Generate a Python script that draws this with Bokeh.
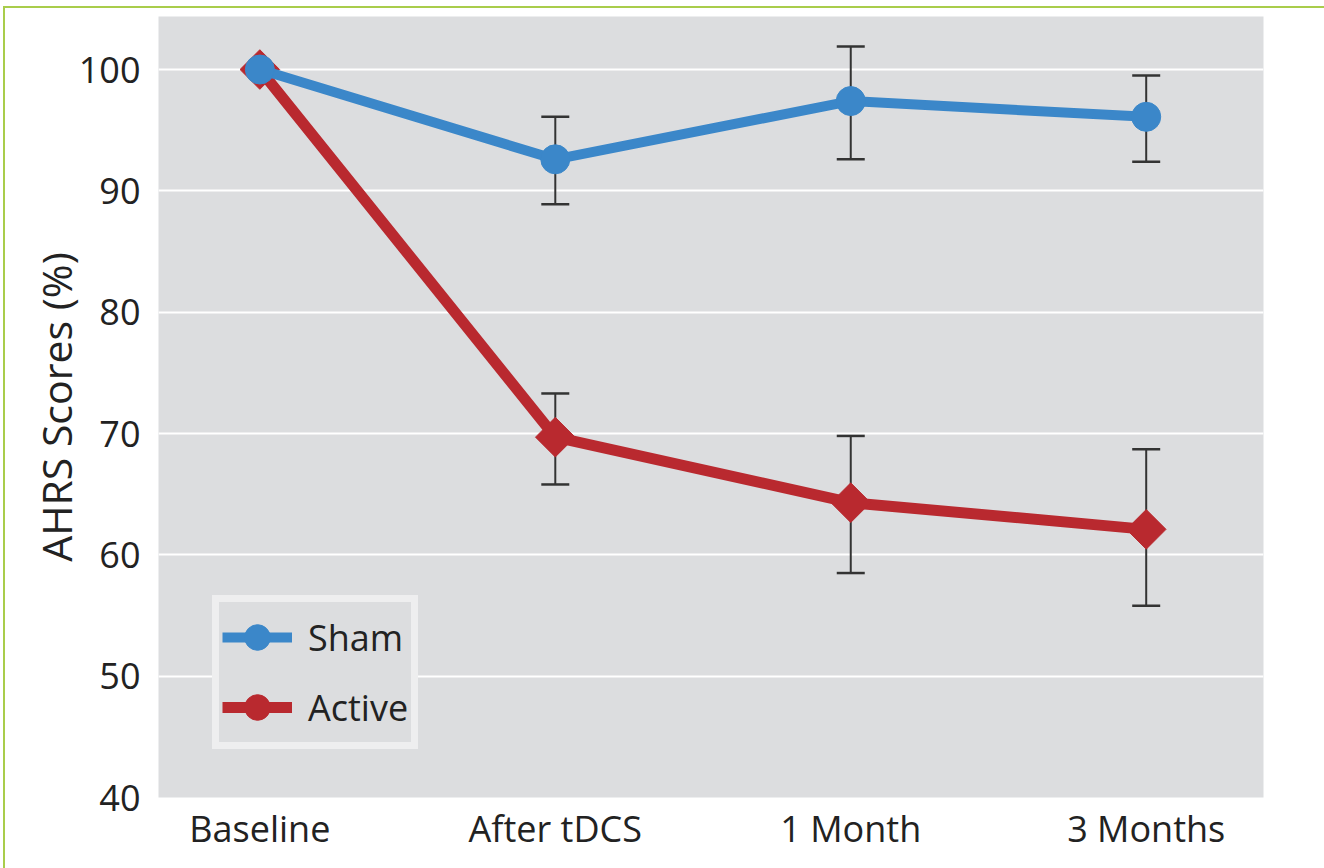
import math
from bokeh.plotting import figure
from bokeh.models import ColumnDataSource, Range1d, Legend, LegendItem
from bokeh.embed import file_html
from bokeh.resources import INLINE

# ---- data ----
categories = ["Baseline", "After tDCS", "1 Month", "3 Months"]
sham_mean = [100.0, 92.6, 97.4, 96.1]
sham_upper = [100.0, 96.1, 101.9, 99.5]
sham_lower = [100.0, 88.9, 92.6, 92.4]
active_mean = [100.0, 69.7, 64.3, 62.1]
active_upper = [100.0, 73.3, 69.8, 68.7]
active_lower = [100.0, 65.8, 58.5, 55.8]
y_ticks = [40, 50, 60, 70, 80, 90, 100]

BLUE = "#3b87c9"
RED = "#b9292f"
BG = "#dcdddf"
TXT = "#222222"
GREEN = "#a9cd4b"
FONT = "Open Sans"

xs = list(range(len(categories)))

p = figure(
    frame_width=1105, frame_height=781,
    x_range=Range1d(-0.343, 3.397), y_range=Range1d(40, 104.37),
    output_backend="svg", toolbar_location=None,
    min_border_left=158, min_border_top=16, min_border_right=61, min_border_bottom=71,
    background_fill_color=BG, border_fill_color=None, outline_line_color=None,
)
p.styles = {
    "background": (
        f"linear-gradient({GREEN}, {GREEN}) 3px 6px / 2px calc(100% - 6px) no-repeat, "
        f"linear-gradient({GREEN}, {GREEN}) 3px 6px / calc(100% - 3px) 2px no-repeat, "
        "#ffffff"
    )
}

# grid
p.xgrid.visible = False
p.ygrid.ticker = y_ticks
p.ygrid.grid_line_color = "white"
p.ygrid.grid_line_width = 2

# axes
for ax in (p.xaxis[0], p.yaxis[0]):
    ax.axis_line_color = None
    ax.major_tick_line_color = None
    ax.minor_tick_line_color = None
    ax.major_label_text_font = FONT
    ax.major_label_text_font_size = "36px"
    ax.major_label_text_color = TXT

p.yaxis.ticker = y_ticks
p.yaxis.major_label_standoff = 12
p.yaxis.axis_label = "AHRS Scores (%)"
p.yaxis.axis_label_text_font = FONT
p.yaxis.axis_label_text_font_size = "41px"
p.yaxis.axis_label_text_font_style = "normal"
p.yaxis.axis_label_text_color = TXT
p.yaxis.axis_label_standoff = -8

p.xaxis.ticker = xs
p.xaxis.major_label_overrides = {i: c for i, c in zip(xs, categories)}
p.xaxis.major_label_standoff = 0


def err_source(upper, lower):
    idx = [i for i in xs if upper[i] != lower[i]]
    return ColumnDataSource(dict(
        x=[xs[i] for i in idx],
        hi=[upper[i] for i in idx],
        lo=[lower[i] for i in idx],
    ))


# error bars (under the lines / markers)
for up, lo in ((active_upper, active_lower), (sham_upper, sham_lower)):
    src = err_source(up, lo)
    p.segment(x0="x", y0="lo", x1="x", y1="hi", source=src,
              line_color="#333333", line_width=2)
    p.scatter(x="x", y="hi", source=src, marker="dash", size=28,
              line_color="#333333", line_width=2.5)
    p.scatter(x="x", y="lo", source=src, marker="dash", size=28,
              line_color="#333333", line_width=2.5)

# Active series
act_src = ColumnDataSource(dict(x=xs, y=active_mean))
act_line = p.line(x="x", y="y", source=act_src, line_color=RED, line_width=11)
p.scatter(x="x", y="y", source=act_src, marker="square", angle=math.pi / 4,
          size=28, fill_color=RED, line_color=RED)
# circle used for the legend symbol (sits under the Sham baseline circle)
act_leg = p.scatter(x="x", y="y",
                    source=ColumnDataSource(dict(x=xs[:1], y=active_mean[:1])),
                    marker="circle", size=27, fill_color=RED, line_color=RED)

# Sham series
sham_src = ColumnDataSource(dict(x=xs, y=sham_mean))
sham_line = p.line(x="x", y="y", source=sham_src, line_color=BLUE, line_width=10)
sham_pts = p.scatter(x="x", y="y", source=sham_src, marker="circle", size=29,
                     fill_color=BLUE, line_color=BLUE)

legend = Legend(
    items=[LegendItem(label="Sham", renderers=[sham_line, sham_pts]),
           LegendItem(label="Active", renderers=[act_line, act_leg])],
    location=(54, 48),
    padding=3, spacing=6, margin=0,
    glyph_width=70, glyph_height=64, label_standoff=16,
    label_text_font=FONT, label_text_font_size="36px", label_text_color=TXT,
    background_fill_color=BG, background_fill_alpha=1.0,
    border_line_color="white", border_line_width=7,
)
p.add_layout(legend)

open("out.html", "w").write(file_html(p, INLINE))
